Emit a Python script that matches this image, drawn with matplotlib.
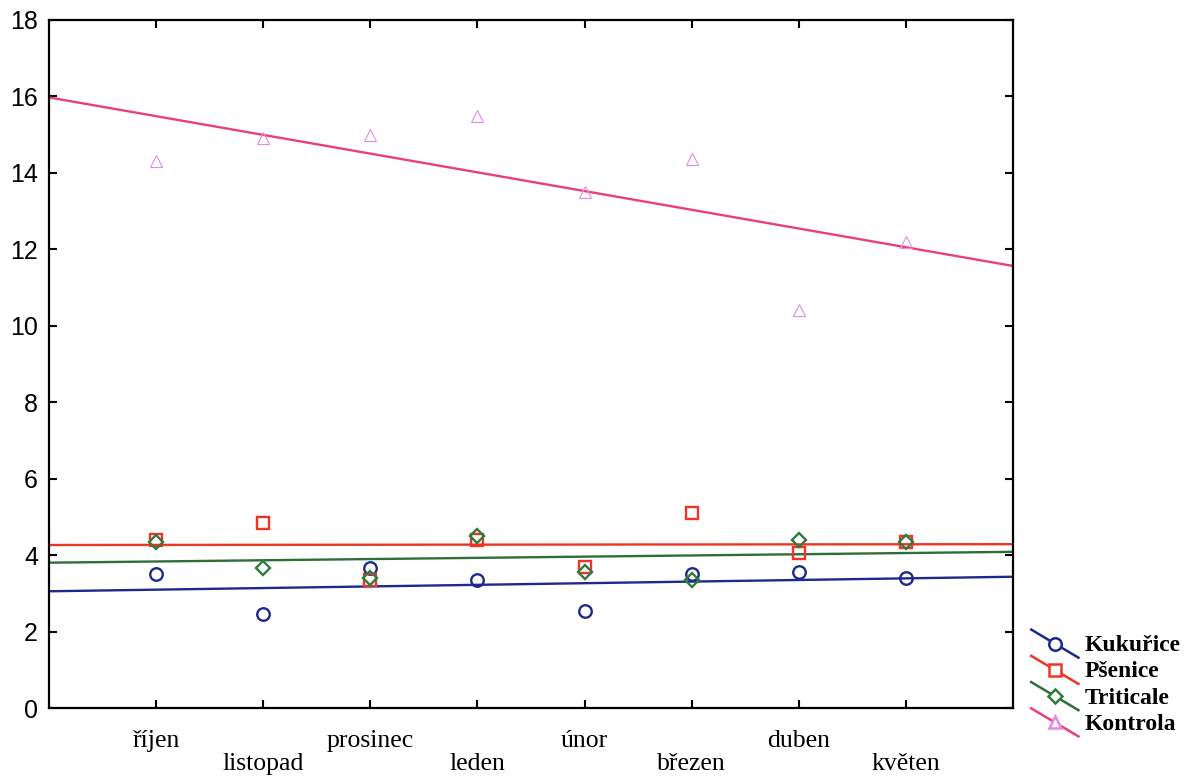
import numpy as np
import matplotlib
matplotlib.use("Agg")
from matplotlib import pyplot as plt
from matplotlib.lines import Line2D
from matplotlib.legend_handler import HandlerBase

months = ['říjen', 'listopad', 'prosinec', 'leden', 'únor', 'březen', 'duben', 'květen']
kukurice = [3.5, 2.45, 3.65, 3.35, 2.55, 3.5, 3.55, 3.4]
psenice = [4.4, 4.85, 3.35, 4.4, 3.7, 5.1, 4.05, 4.35]
triticale = [4.35, 3.65, 3.4, 4.5, 3.55, 3.35, 4.4, 4.35]
kontrola = [14.3, 14.9, 15.0, 15.5, 13.5, 14.35, 10.4, 12.2]

series = [
    ('Kukuřice', kukurice, 'o', '#1c2a8c', '#1c2a8c', 9),
    ('Pšenice', psenice, 's', '#ee3524', '#ee3524', 8.5),
    ('Triticale', triticale, 'D', '#2f6e3a', '#2f7a3c', 7),
    ('Kontrola', kontrola, '^', '#e9407a', '#e48ae6', 8.5),
]


class DiagonalHandler(HandlerBase):
    # legend key drawn as a falling diagonal line with the marker in the middle
    def create_artists(self, legend, orig_handle, xdescent, ydescent,
                       width, height, fontsize, trans):
        x0, x1 = -xdescent, -xdescent + width
        y0, y1 = -ydescent + height * 1.3, -ydescent - height * 0.4
        ln = Line2D([x0, x1], [y0, y1], color=orig_handle.get_color(),
                    lw=orig_handle.get_linewidth())
        mk = Line2D([(x0 + x1) / 2], [(y0 + y1) / 2], ls='none',
                    marker=orig_handle.get_marker(),
                    markersize=orig_handle.get_markersize(),
                    markerfacecolor='white',
                    markeredgecolor=orig_handle.get_markeredgecolor(),
                    markeredgewidth=orig_handle.get_markeredgewidth())
        ln.set_transform(trans)
        mk.set_transform(trans)
        return [ln, mk]


fig = plt.figure(figsize=(11.84, 7.77), dpi=100)
ax = fig.add_axes([0.0414, 0.0888, 0.8142, 0.8855])

x = np.arange(1, len(months) + 1)
xline = np.array([0, 9])
handles = []
for name, vals, mk, lc, mc, ms in series:
    coef = np.polyfit(x, vals, 1)
    ax.plot(xline, np.polyval(coef, xline), color=lc, lw=1.7, zorder=2)
    ax.plot(x, vals, ls='none', marker=mk, markersize=ms, markerfacecolor='none',
            markeredgecolor=mc, markeredgewidth=1.7 if name != 'Kontrola' else 0.8,
            zorder=3)
    handles.append(Line2D([], [], color=lc, lw=1.8, marker=mk, markersize=ms,
                          markeredgecolor=mc, markeredgewidth=1.8, label=name))

ax.set_xlim(0, 9)
ax.set_ylim(0, 18)
ax.set_yticks(np.arange(0, 19, 2))
ax.set_xticks(x)
ax.set_xticklabels([m if i % 2 == 0 else '\n' + m for i, m in enumerate(months)],
                   fontfamily='Liberation Serif', fontsize=18.5, linespacing=1.05)
for lbl in ax.get_yticklabels():
    lbl.set_fontfamily('Liberation Sans')
    lbl.set_fontsize(18)
ax.tick_params(direction='in', length=6, width=1.5, top=True, right=True)
ax.tick_params(axis='x', pad=16)
ax.tick_params(axis='y', pad=8)
for s in ax.spines.values():
    s.set_linewidth(1.6)

fig.legend(handles=handles, loc='lower left', bbox_to_anchor=(0.855, 0.03),
           frameon=False, handler_map={Line2D: DiagonalHandler()},
           prop={'family': 'Liberation Serif', 'weight': 'bold', 'size': 17},
           handlelength=2.0, handletextpad=0.25, labelspacing=0.2, borderpad=0.3)

fig.savefig('out.png', dpi=100)
